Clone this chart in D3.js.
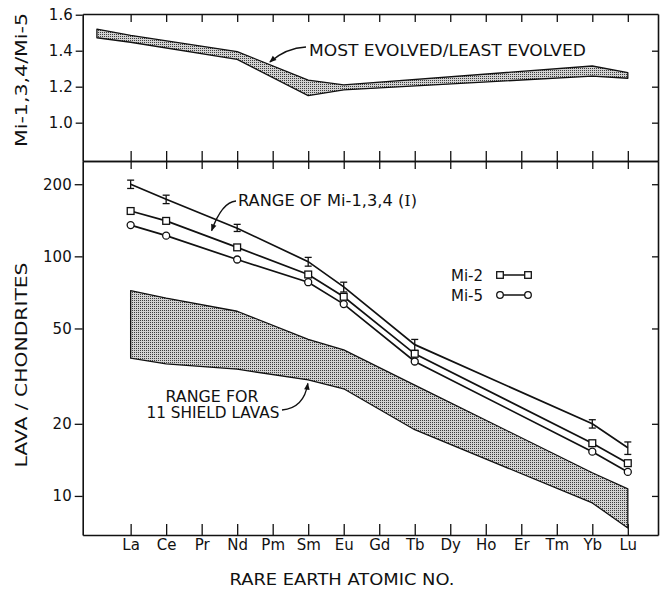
<!DOCTYPE html>
<html>
<head>
<meta charset="utf-8">
<script src="https://cdn.jsdelivr.net/npm/d3@7"></script>
<style>
  body { margin: 0; background: #fff; }
  svg { display: block; }
  text { font-family: "DejaVu Sans", sans-serif; fill: #111; }
</style>
</head>
<body>
<svg id="chart"></svg>
<script>
// Rare earth elements along the x axis (atomic number order)
const elements = ["La", "Ce", "Pr", "Nd", "Pm", "Sm", "Eu", "Gd", "Tb", "Dy", "Ho", "Er", "Tm", "Yb", "Lu"];

// Top panel: Mi-1,3,4 / Mi-5 ratio band (position = element index)
const ratioPos = [-0.95, 0, 3, 5, 6, 13, 14];
const ratioHigh = [1.52, 1.485, 1.395, 1.237, 1.21, 1.315, 1.278];
const ratioLow = [1.472, 1.447, 1.352, 1.15, 1.182, 1.259, 1.247];

// Bottom panel: measured elements
const measured = ["La", "Ce", "Nd", "Sm", "Eu", "Tb", "Yb", "Lu"];
const mi134 = [200, 173, 131, 95, 74.6, 42.8, 20, 15.9];
const mi134Hi = [208, 180, 136, 99, 78, 45, 20.8, 16.8];
const mi134Lo = [192, 166, 127, 91, 71, 40.5, 19.2, 14.9];
const mi2 = [154.6, 140.6, 109, 84, 67.8, 39.2, 16.6, 13.7];
const mi5 = [135, 122, 97, 78, 63.2, 36.4, 15.3, 12.6];

// Range for 11 shield lavas
const shieldHigh = [72, 67, 59, 45, 40.7, 29, 12.5, 10.7];
const shieldLow = [37.6, 35.6, 33.8, 30.5, 28, 18.9, 9.35, 7.35];

const ratioTicks = [1.0, 1.2, 1.4, 1.6];
const lavaTicks = [10, 20, 50, 100, 200];

const width = 663, height = 589;
const svg = d3.select("#chart").attr("width", width).attr("height", height);

const x = d3.scaleLinear().domain([-1.35, 14.85]).range([82.7, 658]);
const yTop = d3.scaleLinear().domain([0.787, 1.604]).range([161, 14]);
const yBot = d3.scaleLog().domain([6.87, 250]).range([535, 161]);

const ix = name => elements.indexOf(name);

// stipple pattern for the shaded bands
const defs = svg.append("defs");
const pat = defs.append("pattern")
  .attr("id", "stipple")
  .attr("width", 2).attr("height", 2)
  .attr("patternUnits", "userSpaceOnUse");
pat.append("rect").attr("width", 2).attr("height", 2).attr("fill", "#d2d2d2");
pat.append("rect").attr("x", 0).attr("y", 0).attr("width", 1).attr("height", 1).attr("fill", "#3c3c3c");

defs.append("marker")
  .attr("id", "arrow")
  .attr("viewBox", "0 0 10 10")
  .attr("refX", 9).attr("refY", 5)
  .attr("markerUnits", "userSpaceOnUse")
  .attr("markerWidth", 8).attr("markerHeight", 7)
  .attr("orient", "auto")
  .append("path")
  .attr("d", "M0,1 L10,5 L0,9 Z")
  .attr("fill", "#111");

// ---------- axes ----------
function styleAxis(g, noLabels) {
  g.select(".domain").attr("stroke", "#111").attr("stroke-width", 1.6);
  g.selectAll(".tick line").attr("stroke", "#111").attr("stroke-width", 1.3);
  g.selectAll(".tick text")
    .style("font-family", "'DejaVu Sans', sans-serif")
    .style("font-size", "15px")
    .attr("fill", "#111");
  if (noLabels) g.selectAll(".tick text").remove();
}

const idxTicks = d3.range(elements.length);

// top panel frame
svg.append("g").attr("transform", `translate(0,${yTop.range()[1]})`)
  .call(d3.axisTop(x).tickValues(idxTicks).tickSize(-8).tickSizeOuter(0))
  .call(g => styleAxis(g, true));

svg.append("g").attr("transform", `translate(0,${yTop.range()[0]})`)
  .call(d3.axisBottom(x).tickValues(idxTicks).tickSize(-10).tickSizeOuter(0))
  .call(g => styleAxis(g, true));

svg.append("g").attr("transform", `translate(${x.range()[0]},0)`)
  .call(d3.axisLeft(yTop).tickValues(ratioTicks).tickFormat(d3.format(".1f")).tickSize(7).tickPadding(3).tickSizeOuter(0))
  .call(g => styleAxis(g, false));

svg.append("g").attr("transform", `translate(${x.range()[1]},0)`)
  .call(d3.axisRight(yTop).tickValues([1.0, 1.2, 1.4]).tickSize(-6).tickSizeOuter(0))
  .call(g => styleAxis(g, true));

// bottom panel frame
svg.append("g").attr("transform", `translate(0,${yBot.range()[1]})`)
  .call(d3.axisTop(x).tickValues(idxTicks).tickSize(-8).tickSizeOuter(0))
  .call(g => styleAxis(g, true));

svg.append("g").attr("transform", `translate(0,${yBot.range()[0]})`)
  .call(d3.axisBottom(x).tickValues(idxTicks).tickFormat(i => elements[i]).tickSize(-11).tickPadding(4).tickSizeOuter(0))
  .call(g => styleAxis(g, false));

svg.append("g").attr("transform", `translate(${x.range()[0]},0)`)
  .call(d3.axisLeft(yBot).tickValues(lavaTicks).tickFormat(d3.format("d")).tickSize(8).tickPadding(3).tickSizeOuter(0))
  .call(g => styleAxis(g, false));

svg.append("g").attr("transform", `translate(${x.range()[1]},0)`)
  .call(d3.axisRight(yBot).tickValues(lavaTicks).tickSize(-6).tickSizeOuter(0))
  .call(g => styleAxis(g, true));

// ---------- top panel band ----------
const ratioData = ratioPos.map((p, i) => ({ p, hi: ratioHigh[i], lo: ratioLow[i] }));
svg.append("path")
  .datum(ratioData)
  .attr("d", d3.area().x(d => x(d.p)).y0(d => yTop(d.lo)).y1(d => yTop(d.hi)))
  .attr("fill", "url(#stipple)")
  .attr("stroke", "#111")
  .attr("stroke-width", 1.3)
  .attr("stroke-linejoin", "round");

// ---------- bottom panel ----------
const shieldData = measured.map((e, i) => ({ p: ix(e), hi: shieldHigh[i], lo: shieldLow[i] }));
svg.append("path")
  .datum(shieldData)
  .attr("d", d3.area().x(d => x(d.p)).y0(d => yBot(d.lo)).y1(d => yBot(d.hi)))
  .attr("fill", "url(#stipple)")
  .attr("stroke", "#111")
  .attr("stroke-width", 1.3)
  .attr("stroke-linejoin", "round");

const line = d3.line().x(d => x(d.p)).y(d => yBot(d.v));
function seriesData(vals) { return measured.map((e, i) => ({ p: ix(e), v: vals[i] })); }

[mi134, mi2, mi5].forEach(vals => {
  svg.append("path")
    .datum(seriesData(vals))
    .attr("d", line)
    .attr("fill", "none")
    .attr("stroke", "#111")
    .attr("stroke-width", 1.7);
});

// error bars on Mi-1,3,4 range
const errG = svg.append("g").attr("stroke", "#111").attr("stroke-width", 1.3);
measured.forEach((e, i) => {
  const cx = x(ix(e));
  errG.append("line").attr("x1", cx).attr("x2", cx).attr("y1", yBot(mi134Hi[i])).attr("y2", yBot(mi134Lo[i]));
  errG.append("line").attr("x1", cx - 3.5).attr("x2", cx + 3.5).attr("y1", yBot(mi134Hi[i])).attr("y2", yBot(mi134Hi[i]));
  errG.append("line").attr("x1", cx - 3.5).attr("x2", cx + 3.5).attr("y1", yBot(mi134Lo[i])).attr("y2", yBot(mi134Lo[i]));
});

// Mi-2 squares
svg.append("g").selectAll("rect")
  .data(seriesData(mi2))
  .join("rect")
  .attr("x", d => x(d.p) - 3.4).attr("y", d => yBot(d.v) - 3.4)
  .attr("width", 6.8).attr("height", 6.8)
  .attr("fill", "#fff").attr("stroke", "#111").attr("stroke-width", 1.3);

// Mi-5 circles
svg.append("g").selectAll("circle")
  .data(seriesData(mi5))
  .join("circle")
  .attr("cx", d => x(d.p)).attr("cy", d => yBot(d.v))
  .attr("r", 3.5)
  .attr("fill", "#fff").attr("stroke", "#111").attr("stroke-width", 1.3);

// ---------- legend ----------
const leg = svg.append("g");
[["Mi-2", "square", 275], ["Mi-5", "circle", 295]].forEach(([label, shape, ly]) => {
  leg.append("text").attr("x", 451).attr("y", ly + 5.5).style("font-size", "15px").text(label);
  leg.append("line").attr("x1", 500).attr("x2", 528).attr("y1", ly).attr("y2", ly)
    .attr("stroke", "#111").attr("stroke-width", 1.5);
  [500, 528].forEach(cx => {
    if (shape === "square") {
      leg.append("rect").attr("x", cx - 3.3).attr("y", ly - 3.3).attr("width", 6.6).attr("height", 6.6)
        .attr("fill", "#fff").attr("stroke", "#111").attr("stroke-width", 1.3);
    } else {
      leg.append("circle").attr("cx", cx).attr("cy", ly).attr("r", 3.3)
        .attr("fill", "#fff").attr("stroke", "#111").attr("stroke-width", 1.3);
    }
  });
});

// ---------- annotations ----------
svg.append("text").attr("x", 309).attr("y", 55.5)
  .attr("textLength", 277).attr("lengthAdjust", "spacingAndGlyphs")
  .style("font-size", "15px").text("MOST EVOLVED/LEAST EVOLVED");
svg.append("path")
  .attr("d", `M306,47 Q286,48 ${x(3.92)},${yTop(1.337)}`)
  .attr("fill", "none").attr("stroke", "#111").attr("stroke-width", 1.3)
  .attr("marker-end", "url(#arrow)");

const rt = svg.append("text").attr("x", 238).attr("y", 206)
  .attr("textLength", 179).attr("lengthAdjust", "spacingAndGlyphs")
  .style("font-size", "15px");
rt.append("tspan").text("RANGE OF Mi-1,3,4 (");
rt.append("tspan").style("font-family", "'DejaVu Serif', serif").text("I");
rt.append("tspan").text(")");
svg.append("path")
  .attr("d", `M236,201 Q222,202 ${x(2.28)},${yBot(128)}`)
  .attr("fill", "none").attr("stroke", "#111").attr("stroke-width", 1.3)
  .attr("marker-end", "url(#arrow)");

svg.append("text").attr("x", 212).attr("y", 401.5).attr("text-anchor", "middle")
  .attr("textLength", 93).attr("lengthAdjust", "spacingAndGlyphs")
  .style("font-size", "15px").text("RANGE FOR");
svg.append("text").attr("x", 213).attr("y", 418).attr("text-anchor", "middle")
  .attr("textLength", 133).attr("lengthAdjust", "spacingAndGlyphs")
  .style("font-size", "15px").text("11 SHIELD LAVAS");
svg.append("path")
  .attr("d", `M282,410 Q304,408 ${x(4.99)},${yBot(29.5)}`)
  .attr("fill", "none").attr("stroke", "#111").attr("stroke-width", 1.3)
  .attr("marker-end", "url(#arrow)");

// ---------- axis titles ----------
svg.append("text").attr("x", 342).attr("y", 585).attr("text-anchor", "middle")
  .attr("textLength", 225).attr("lengthAdjust", "spacingAndGlyphs")
  .style("font-size", "16px").text("RARE EARTH ATOMIC NO.");

svg.append("text").attr("transform", "translate(27,365) rotate(-90)").attr("text-anchor", "middle")
  .attr("textLength", 205).attr("lengthAdjust", "spacingAndGlyphs")
  .style("font-size", "16px").text("LAVA / CHONDRITES");

svg.append("text").attr("transform", "translate(27,80) rotate(-90)").attr("text-anchor", "middle")
  .attr("textLength", 134).attr("lengthAdjust", "spacingAndGlyphs")
  .style("font-size", "16px").text("Mi-1,3,4/Mi-5");
</script>
</body>
</html>
